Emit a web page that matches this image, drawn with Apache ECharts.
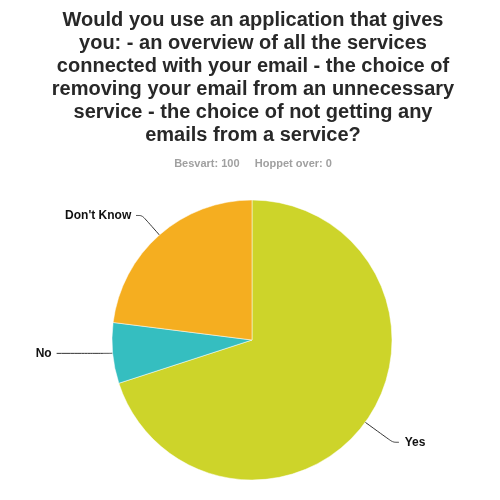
<!DOCTYPE html>
<html><head><meta charset="utf-8">
<script src="https://cdn.jsdelivr.net/npm/echarts@6/dist/echarts.min.js"></script>
<style>html,body{margin:0;padding:0;background:#fff}#c{width:500px;height:500px}</style>
</head><body><div id="c"></div>
<script>
const titleLines = [
  "Would you use an application that gives",
  "you: - an overview of all the services",
  "connected with your email - the choice of",
  "removing your email from an unnecessary",
  "service - the choice of not getting any",
  "emails from a service?"
];
const subtitle = "Besvart: 100     Hoppet over: 0";
const categories = ["Yes", "No", "Don't Know"];
const values = [70, 7, 23];
const colors = ["#cdd42a", "#35bec0", "#f5ae20"];
const lineCfg = [
  {length: 34, length2: 6, dist: 6},
  {length: 2, length2: 54, dist: 5},
  {length: 26, length2: 6, dist: 5}
];
const chart = echarts.init(document.getElementById('c'), null, {renderer: 'canvas'});
chart.setOption({
  animation: false,
  title: {
    text: titleLines.join('\n'),
    subtext: subtitle,
    left: 248,
    top: 4,
    textAlign: 'center',
    itemGap: 11,
    textStyle: {fontFamily: 'Liberation Sans, Arial, sans-serif', fontWeight: 'bold', fontSize: 20, lineHeight: 23, color: '#282828'},
    subtextStyle: {fontFamily: 'Liberation Sans, Arial, sans-serif', fontWeight: 'bold', fontSize: 11, color: '#a0a0a0'}
  },
  series: [{
    type: 'pie',
    center: [252, 340],
    radius: 140,
    startAngle: 90,
    clockwise: true,
    avoidLabelOverlap: false,
    itemStyle: {borderColor: '#fff', borderWidth: 0.5},
    label: {show: true, position: 'outside', color: '#111', fontWeight: 'bold', fontSize: 12, fontFamily: 'Liberation Sans, Arial, sans-serif'},
    labelLine: {show: true, smooth: 0.3, lineStyle: {color: '#333', width: 1}},
    emphasis: {disabled: true},
    data: categories.map((c, i) => ({
      name: c, value: values[i],
      itemStyle: {color: colors[i]},
      label: {distanceToLabelLine: lineCfg[i].dist},
      labelLine: {length: lineCfg[i].length, length2: lineCfg[i].length2}
    }))
  }]
});
</script></body></html>
